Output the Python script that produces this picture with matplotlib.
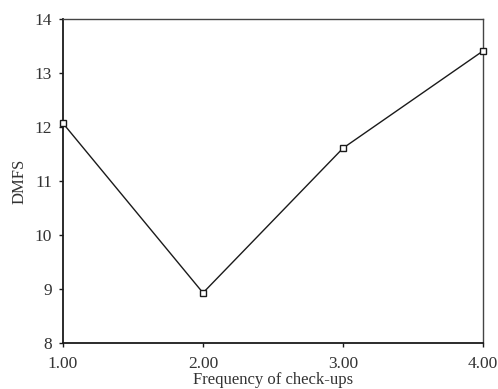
import matplotlib
matplotlib.use("Agg")
import matplotlib.pyplot as plt

x_vals = [1.0, 2.0, 3.0, 4.0]
dmfs = [12.07, 8.93, 11.61, 13.41]
x_ticks = [1.0, 2.0, 3.0, 4.0]
x_labels = ["1.00", "2.00", "3.00", "4.00"]
y_ticks = [8, 9, 10, 11, 12, 13, 14]

plt.rcParams['font.family'] = ['Liberation Serif', 'DejaVu Serif']

fig = plt.figure(figsize=(4.98, 3.89), dpi=100)
ax = fig.add_axes([0.1265, 0.118, 0.8435, 0.833])
ax.plot(x_vals, dmfs, color='#1a1a1a', linewidth=1.0, marker='s', markersize=5,
        markerfacecolor='white', markeredgecolor='#1a1a1a', markeredgewidth=1.0,
        clip_on=False, zorder=3)
ax.set_xlim(1, 4)
ax.set_ylim(8, 14)
ax.set_xticks(x_ticks)
ax.set_xticklabels(x_labels)
ax.set_yticks(y_ticks)
ax.tick_params(axis='both', direction='out', length=3, width=1.0, labelsize=12.5,
               colors='#1a1a1a', labelcolor='#333333')
ax.tick_params(axis='x', pad=6)
ax.tick_params(axis='y', pad=5)
for s in ['left', 'bottom']:
    ax.spines[s].set_linewidth(1.3)
    ax.spines[s].set_color('#1a1a1a')
for s in ['top', 'right']:
    ax.spines[s].set_linewidth(1.0)
    ax.spines[s].set_color('#444444')
ax.set_xlabel('Frequency of check-ups', fontsize=12, color='#333333', labelpad=0.5)
ax.set_ylabel('DMFS', fontsize=12, color='#333333', labelpad=5)
fig.savefig('out.png', dpi=100)
